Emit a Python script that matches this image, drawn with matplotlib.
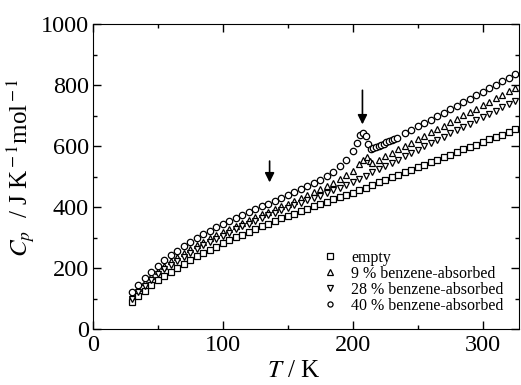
import matplotlib
matplotlib.use("Agg")
import matplotlib.pyplot as plt

plt.rcParams.update({
    "font.family": "Liberation Serif",
    "mathtext.fontset": "stix",
    "font.size": 17,
})

# temperatures (K) and heat capacities (J K^-1 mol^-1)
T_grid = list(range(30, 326, 5))

cp_empty = [90, 109, 127, 144, 160, 175, 189, 202, 215, 227,
            239, 250, 261, 271, 281, 291, 301, 310, 319, 328,
            337, 346, 354, 363, 371, 379, 387, 395, 403, 411,
            418, 426, 433, 441, 448, 456, 464, 473, 481, 490,
            498, 506, 514, 523, 531, 539, 547, 556, 564, 572,
            580, 589, 597, 605, 614, 622, 630, 638, 647, 655]

T_9 = list(range(30, 201, 5)) + [205, 208, 211, 213, 215] + list(range(220, 326, 5))
cp_9 = [112, 134, 155, 174, 192, 208, 223, 237, 250, 263,
        275, 287, 298, 309, 319, 329, 339, 348, 358, 367,
        376, 385, 394, 403, 412, 421, 430, 439, 449, 459,
        469, 480, 492, 505, 520,
        540, 555, 565, 550, 545,
        555, 566, 577, 589, 600, 611, 622, 633, 645, 656,
        667, 678, 689, 701, 712, 723, 734, 745, 757, 768, 779, 790]

cp_28 = [100, 122, 143, 162, 180, 196, 211, 225, 238, 251,
         263, 275, 286, 297, 307, 317, 327, 337, 346, 356,
         365, 374, 382, 390, 398, 406, 414, 422, 430, 438,
         446, 455, 464, 473, 482, 492, 503, 515, 525, 535,
         546, 556, 567, 578, 588, 599, 610, 620, 631, 642,
         652, 663, 674, 684, 695, 706, 716, 727, 738, 748]

T_40 = (list(range(30, 201, 5)) + [203, 206, 208, 210, 212]
        + list(range(214, 235, 2)) + list(range(240, 326, 5)))
cp_40 = [122, 146, 168, 189, 208, 226, 242, 257, 272, 286,
         299, 311, 323, 334, 345, 355, 365, 375, 384, 394,
         403, 412, 421, 430, 440, 449, 459, 469, 479, 490,
         502, 516, 534, 556, 585,
         610, 635, 642, 632, 608,
         590, 593, 597, 600, 604, 608, 612, 616, 620, 624, 628,
         642, 653, 665, 676, 687, 699, 710, 721, 733, 744,
         755, 767, 778, 789, 801, 812, 823, 835]

fig = plt.figure(figsize=(5.21, 3.85), dpi=100)
ax = fig.add_axes([0.1785, 0.1447, 0.8175, 0.793])

mk = dict(ms=4.6, mfc="white", mec="black", mew=0.9, ls="none")
ax.plot(T_grid, cp_empty, marker="s", label="empty", **mk)
ax.plot(T_9, cp_9, marker="^", label="9 % benzene-absorbed", **mk)
ax.plot(T_grid, cp_28, marker="v", label="28 % benzene-absorbed", **mk)
ax.plot(T_40, cp_40, marker="o", label="40 % benzene-absorbed", **mk)

arr = dict(arrowstyle="-|>", color="black", lw=1.2, mutation_scale=14)
ax.annotate("", xy=(136, 472), xytext=(136, 560), arrowprops=arr)
ax.annotate("", xy=(207.5, 662), xytext=(207.5, 792), arrowprops=arr)

ax.set_xlim(0, 328)
ax.set_ylim(0, 1000)
ax.set_xticks([0, 100, 200, 300])
ax.set_xticks([50, 150, 250], minor=True)
ax.set_yticks([0, 200, 400, 600, 800, 1000])
ax.set_yticks([100, 300, 500, 700, 900], minor=True)
ax.tick_params(which="both", direction="in", top=True, right=True,
               labelsize=17.5, width=1)
ax.tick_params(axis="x", pad=4)
ax.tick_params(axis="y", pad=3)
ax.tick_params(which="major", length=6)
ax.tick_params(which="minor", length=3)

ax.set_xlabel(r"$T$ / K", fontsize=18)
ax.xaxis.set_label_coords(0.472, -0.1)
ax.set_ylabel(r"$C_p$  / J K$^{\rm -1}$mol$^{\rm -1}$", fontsize=18)
ax.yaxis.set_label_coords(-0.13, 0.53)

ax.legend(loc="upper left", bbox_to_anchor=(0.52, 0.287), frameon=False,
          fontsize=11.5, handlelength=1.0, handletextpad=0.8,
          labelspacing=0.0, borderpad=0, markerscale=0.8)

fig.savefig("out.png", dpi=100)
